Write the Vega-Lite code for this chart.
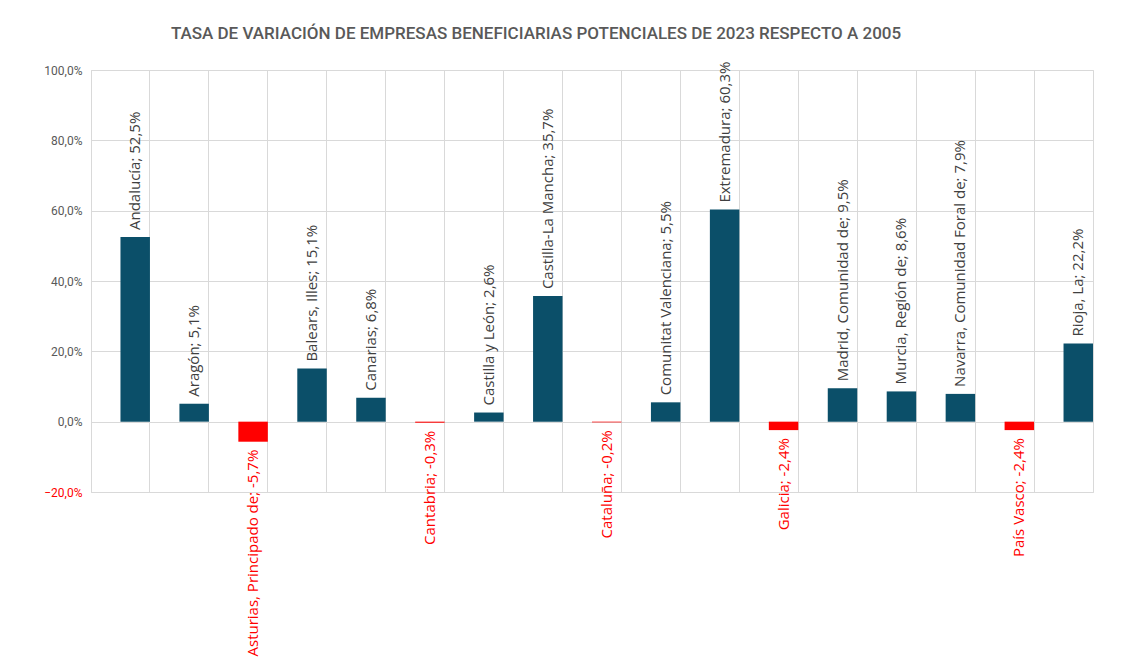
{
  "$schema": "https://vega.github.io/schema/vega-lite/v6.json",
  "width": 1002,
  "height": 422,
  "autosize": "none",
  "padding": {"left": 91, "top": 70, "right": 37, "bottom": 171},
  "background": "white",
  "title": {
    "text": "TASA DE VARIACIÓN DE EMPRESAS BENEFICIARIAS POTENCIALES DE 2023 RESPECTO A 2005",
    "font": "Roboto",
    "fontSize": 17,
    "fontWeight": 500,
    "color": "#595959",
    "anchor": "middle",
    "frame": "group",
    "dx": -56,
    "offset": 19
  },
  "config": {
    "view": {"stroke": "#d9d9d9", "strokeWidth": 1}
  },
  "data": {
    "values": [
      {"region": "Andalucía", "value": 52.5, "label": "Andalucía; 52,5%"},
      {"region": "Aragón", "value": 5.1, "label": "Aragón; 5,1%"},
      {"region": "Asturias, Principado de", "value": -5.7, "label": "Asturias, Principado de; -5,7%"},
      {"region": "Balears, Illes", "value": 15.1, "label": "Balears, Illes; 15,1%"},
      {"region": "Canarias", "value": 6.8, "label": "Canarias; 6,8%"},
      {"region": "Cantabria", "value": -0.3, "label": "Cantabria; -0,3%"},
      {"region": "Castilla y León", "value": 2.6, "label": "Castilla y León; 2,6%"},
      {"region": "Castilla-La Mancha", "value": 35.7, "label": "Castilla-La Mancha; 35,7%"},
      {"region": "Cataluña", "value": -0.2, "label": "Cataluña; -0,2%"},
      {"region": "Comunitat Valenciana", "value": 5.5, "label": "Comunitat Valenciana; 5,5%"},
      {"region": "Extremadura", "value": 60.3, "label": "Extremadura; 60,3%"},
      {"region": "Galicia", "value": -2.4, "label": "Galicia; -2,4%"},
      {"region": "Madrid, Comunidad de", "value": 9.5, "label": "Madrid, Comunidad de; 9,5%"},
      {"region": "Murcia, Región de", "value": 8.6, "label": "Murcia, Región de; 8,6%"},
      {"region": "Navarra, Comunidad Foral de", "value": 7.9, "label": "Navarra, Comunidad Foral de; 7,9%"},
      {"region": "País Vasco", "value": -2.4, "label": "País Vasco; -2,4%"},
      {"region": "Rioja, La", "value": 22.2, "label": "Rioja, La; 22,2%"}
    ]
  },
  "encoding": {
    "x": {
      "field": "region",
      "type": "nominal",
      "sort": null,
      "scale": {"paddingInner": 0, "paddingOuter": 0},
      "axis": {
        "title": null,
        "labels": false,
        "ticks": false,
        "domain": false,
        "grid": true,
        "gridColor": "#d9d9d9",
        "bandPosition": 0
      }
    },
    "xOffset": {"datum": "b", "scale": {"domain": ["a", "b"], "paddingInner": 0, "paddingOuter": 0}},
    "y": {
      "field": "value",
      "type": "quantitative",
      "scale": {"domain": [-20, 100], "nice": false, "zero": true},
      "axis": {
        "title": null,
        "values": [-20, 0, 20, 40, 60, 80, 100],
        "labelExpr": "replace(format(datum.value, '.1f'), '.', ',') + '%'",
        "labelFont": "Roboto",
        "labelFontSize": 12,
        "labelColor": {"condition": {"test": "datum.value < 0", "value": "#ff0000"}, "value": "#595959"},
        "labelPadding": 9,
        "ticks": false,
        "domain": false,
        "grid": true,
        "gridColor": "#d9d9d9"
      }
    }
  },
  "layer": [
    {
      "mark": {"type": "bar"},
      "encoding": {
        "y2": {"datum": 0},
        "color": {
          "condition": {"test": "datum.value < 0", "value": "#ff0000"},
          "value": "#0b4f69"
        }
      }
    },
    {
      "transform": [{"filter": "datum.value >= 0"}],
      "mark": {"type": "text", "angle": -90, "align": "left", "baseline": "middle", "dx": 7, "font": "Open Sans", "fontSize": 15, "color": "#404040"},
      "encoding": {"text": {"field": "label"}}
    },
    {
      "transform": [{"filter": "datum.value < 0"}],
      "mark": {"type": "text", "angle": -90, "align": "right", "baseline": "middle", "dx": -8, "font": "Open Sans", "fontSize": 15, "color": "#ff0000"},
      "encoding": {"text": {"field": "label"}}
    }
  ]
}
